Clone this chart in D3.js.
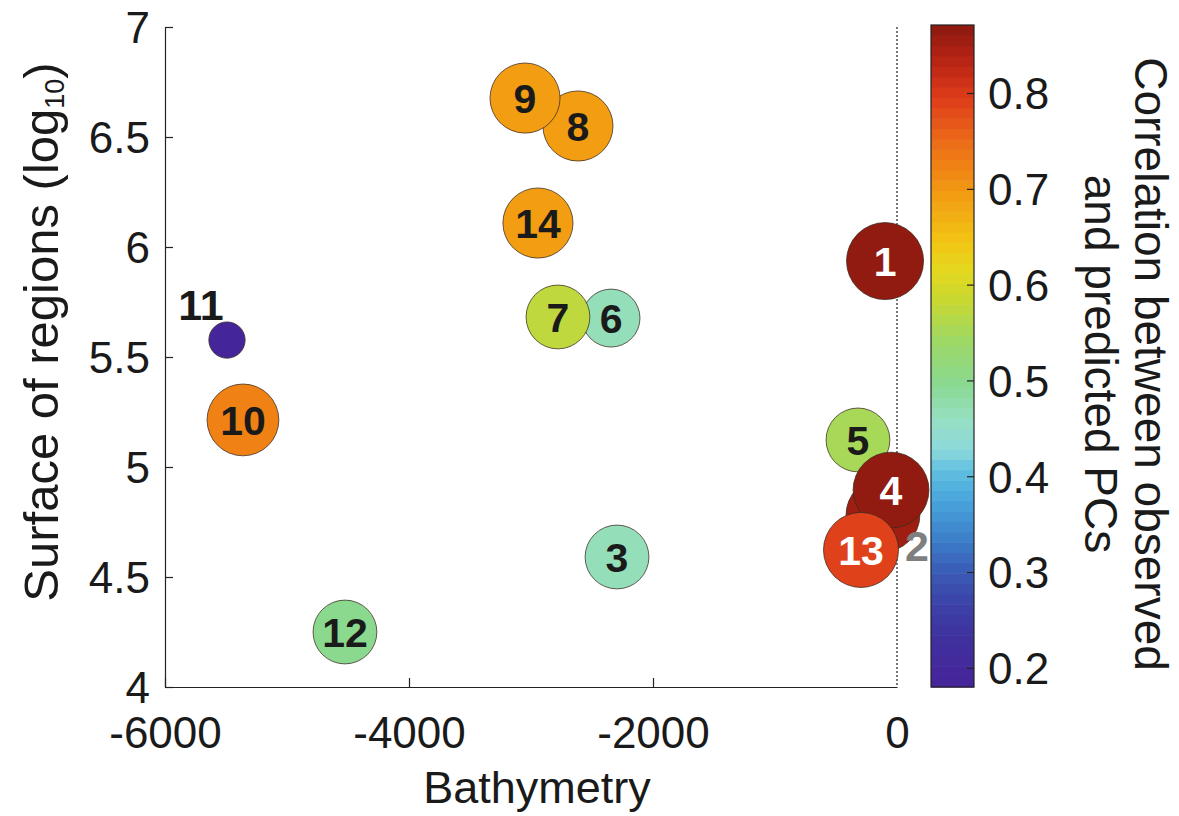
<!DOCTYPE html>
<html>
<head>
<meta charset="utf-8">
<script src="https://cdn.jsdelivr.net/npm/d3@7"></script>
<style>
  html, body { margin: 0; padding: 0; background: #fff; }
  svg { display: block; font-family: "Liberation Sans", Arial, Helvetica, sans-serif; }
</style>
</head>
<body>
<svg id="chart" width="1179" height="816"></svg>
<script>
// Regions, listed in drawing order (later ones sit on top)
const regionIds     = [1, 2, 3, 5, 4, 6, 7, 8, 9, 10, 11, 12, 13, 14];
// Mean bathymetry of each region (m)
const bathymetry    = [-98, -115, -2295, -320, -49, -2344, -2779, -2615, -3049, -5361, -5492, -4525, -295, -2943];
// Surface of each region (log10)
const surfaceLog10  = [5.936, 4.782, 4.591, 5.123, 4.895, 5.677, 5.682, 6.55, 6.677, 5.214, 5.577, 4.25, 4.623, 6.109];
// Correlation between observed and predicted PCs
const correlation   = [0.871, 0.858, 0.463, 0.553, 0.865, 0.47, 0.57, 0.69, 0.69, 0.72, 0.18, 0.498, 0.795, 0.69];
// Relative weight of each region (bubble area)
const regionWeight  = [99, 91, 68, 68, 96, 56, 68, 82, 82, 86, 22, 68, 94, 82];

const xTicks = [-6000, -4000, -2000, 0];
const yTicks = [4, 4.5, 5, 5.5, 6, 6.5, 7];
const cTicks = [0.2, 0.3, 0.4, 0.5, 0.6, 0.7, 0.8];

const svg = d3.select("#chart");
const W = 1179, H = 816;
const plot = { left: 165, right: 897, top: 27, bottom: 687 };
const cbar = { left: 931, right: 974, top: 25, bottom: 687 };
const ink = "#1a1a1a";

svg.append("rect").attr("width", W).attr("height", H).attr("fill", "#fff");

const x = d3.scaleLinear().domain([-6000, 0]).range([plot.left, plot.right]);
const y = d3.scaleLinear().domain([4, 7]).range([plot.bottom, plot.top]);
const r = d3.scaleSqrt().domain([0, 100]).range([0, 38.7]);

// Colormap: purple -> blue -> cyan -> green -> yellow -> orange -> red -> dark red
const cExtent = d3.extent(correlation);
const stopT = [0, .071, .131, .181, .222, .282, .328, .358, .403, .459, .524, .585, .630, .675, .748, .826, .894, .947, 1];
const stopC = ["#46249a", "#40309e", "#3c44a8", "#3a60b8", "#3c7ec8", "#48a4dc", "#60c0e0", "#8cd8dc",
               "#96e0c4", "#8ad890", "#9ed865", "#c8d830", "#e4d81e", "#f2c414", "#f29a12", "#ec6a18",
               "#dc3a1a", "#b82414", "#8c1a10"];
const cmapCont = d3.scaleLinear()
  .domain(stopT.map(t => cExtent[0] + t * (cExtent[1] - cExtent[0])))
  .range(stopC)
  .interpolate(d3.interpolateRgb)
  .clamp(true);
const nBands = 64;
const dv = (cExtent[1] - cExtent[0]) / nBands;
function bandColor(v) {
  const i = Math.max(0, Math.min(nBands - 1, Math.floor((v - cExtent[0]) / dv)));
  return cmapCont(cExtent[0] + (i + 0.5) * dv);
}

// Axes
const gx = svg.append("g").attr("transform", `translate(0,${plot.bottom})`)
  .call(d3.axisBottom(x).tickValues(xTicks).tickFormat(d => String(d))
    .tickSizeInner(-9).tickSizeOuter(0).tickPadding(30));
const gy = svg.append("g").attr("transform", `translate(${plot.left},0)`)
  .call(d3.axisLeft(y).tickValues(yTicks).tickFormat(d => String(d))
    .tickSizeInner(-8).tickSizeOuter(0).tickPadding(15));
[gx, gy].forEach(g => {
  g.select(".domain").attr("stroke", "#222").attr("stroke-width", 1.2);
  g.selectAll(".tick line").attr("stroke", "#222").attr("stroke-width", 1.2);
  g.selectAll(".tick text").attr("fill", ink).attr("font-size", 44).attr("font-family", null);
});
gx.select(".tick:last-of-type line").remove();
gx.selectAll(".tick text").attr("dy", "0.71em");
gy.selectAll(".tick text").attr("dy", "0.36em");

// Zero-depth reference line
svg.append("line")
  .attr("x1", x(0)).attr("x2", x(0)).attr("y1", plot.top).attr("y2", plot.bottom)
  .attr("stroke", "#333").attr("stroke-width", 1.3).attr("stroke-dasharray", "2,2");

// Axis titles
svg.append("text")
  .attr("x", (plot.left + plot.right) / 2 + 6).attr("y", 803)
  .attr("text-anchor", "middle").attr("font-size", 45).attr("fill", ink)
  .text("Bathymetry");

const yt = svg.append("text")
  .attr("transform", `translate(58,332) rotate(-90)`)
  .attr("text-anchor", "middle").attr("font-size", 49).attr("fill", ink);
yt.append("tspan").text("Surface of regions (log");
yt.append("tspan").attr("font-size", 27).attr("dy", 6).text("10");
yt.append("tspan").attr("dy", -6).text(")");

// Bubbles
const data = regionIds.map((id, i) => ({
  id, bx: bathymetry[i], s: surfaceLog10[i], c: correlation[i], w: regionWeight[i]
}));

const bubbles = svg.append("g");
bubbles.selectAll("circle").data(data).join("circle")
  .attr("cx", d => x(d.bx)).attr("cy", d => y(d.s)).attr("r", d => r(d.w))
  .attr("fill", d => bandColor(d.c))
  .attr("stroke", "#3a2a20").attr("stroke-opacity", 0.75).attr("stroke-width", 1);

// Labels: most sit inside the bubble; a couple are placed beside it
const outside = {
  11: { dx: -26, dy: -36, fill: ink },
  2:  { dx: 34,  dy: 31,  fill: "#7f7f7f" }
};
svg.append("g").selectAll("text").data(data).join("text")
  .attr("x", d => x(d.bx) + (outside[d.id] ? outside[d.id].dx : 0))
  .attr("y", d => y(d.s) + (outside[d.id] ? outside[d.id].dy : 0))
  .attr("dy", "0.36em")
  .attr("text-anchor", "middle")
  .attr("font-size", d => outside[d.id] ? 43 : 41)
  .attr("font-weight", "bold")
  .attr("fill", d => outside[d.id] ? outside[d.id].fill : (d.c > 0.78 ? "#fff" : ink))
  .text(d => d.id);

// Colorbar
const cy = d3.scaleLinear().domain(cExtent).range([cbar.bottom, cbar.top]);
const bands = d3.range(nBands).map(i => cExtent[0] + i * dv);
svg.append("g").selectAll("rect").data(bands).join("rect")
  .attr("x", cbar.left).attr("width", cbar.right - cbar.left)
  .attr("y", d => cy(d + dv)).attr("height", d => cy(d) - cy(d + dv) + 0.6)
  .attr("fill", d => bandColor(d + dv / 2));
svg.append("rect")
  .attr("x", cbar.left).attr("y", cbar.top)
  .attr("width", cbar.right - cbar.left).attr("height", cbar.bottom - cbar.top)
  .attr("fill", "none").attr("stroke", "#222").attr("stroke-width", 1.2);

const gc = svg.append("g").attr("transform", `translate(${cbar.right},0)`)
  .call(d3.axisRight(cy).tickValues(cTicks).tickFormat(d3.format(".1f"))
    .tickSizeInner(-7).tickSizeOuter(0).tickPadding(14));
gc.select(".domain").remove();
gc.selectAll(".tick line").attr("stroke", "#222").attr("stroke-width", 1.2);
gc.selectAll(".tick text").attr("fill", ink).attr("font-size", 44).attr("font-family", null).attr("dy", "0.36em");

const ct = svg.append("text")
  .attr("transform", `translate(1135,${(cbar.top + cbar.bottom) / 2 + 8}) rotate(90)`)
  .attr("text-anchor", "middle").attr("font-size", 46).attr("fill", ink);
ct.append("tspan").attr("x", 0).attr("dy", 0).text("Correlation between observed");
ct.append("tspan").attr("x", 0).attr("dy", 50).text("and predicted PCs");
</script>
</body>
</html>
